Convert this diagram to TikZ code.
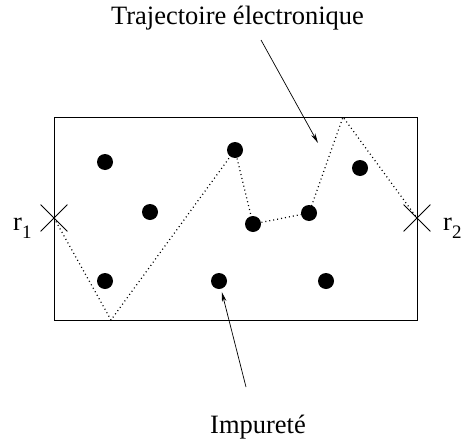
\documentclass[tikz,border=0pt]{standalone}
\usepackage{fontspec}
\setmainfont{Liberation Serif}
\usetikzlibrary{arrows.meta,shapes.misc}

\newcommand{\labsub}[2]{#1\raisebox{-8pt}{\fontsize{19}{20}\selectfont #2}}

\begin{document}
\begin{tikzpicture}[x=1pt, y=-1pt,
    label text/.style={font=\fontsize{26.5}{30}\selectfont, inner sep=0pt},
    impurity/.style={circle, fill=black, minimum size=16pt, inner sep=0pt},
    endpoint/.style={draw, cross out, minimum size=26pt, inner sep=0pt, line width=0.8pt},
    path line/.style={line width=1.2pt, dash pattern=on 1pt off 3pt},
    pointer/.style={-{Stealth[length=10pt, width=4.5pt]}, line width=0.7pt}]
    \useasboundingbox (0,0) rectangle (465,444);

    % Sample
    \draw[line width=0.8pt] (54,117) rectangle (417,320);

    % Ends of the path
    \node[endpoint] (r1) at (54,218) {};
    \node[endpoint] (r2) at (417,218) {};
    \node[label text, anchor=base west] (r1lab) at (13,230) {\labsub{r}{1}};
    \node[label text, anchor=base west] (r2lab) at (443,230) {\labsub{r}{2}};

    % Trajectory
    \coordinate (b1) at (111,320);
    \coordinate (b2) at (343,117);
    \draw[path line] (r1.center) -- (b1) -- (235,150) -- (253,224) -- (309,213) -- (b2) -- (r2.center);

    % Impurities
    \node[impurity] (i1) at (105,162) {};
    \node[impurity] (i2) at (150,212) {};
    \node[impurity] (i3) at (105,281) {};
    \node[impurity] (i4) at (219,281) {};
    \node[impurity] (i5) at (235,150) {};
    \node[impurity] (i6) at (253,224) {};
    \node[impurity] (i7) at (309,213) {};
    \node[impurity] (i8) at (360,168) {};
    \node[impurity] (i9) at (326,281) {};

    % Labels
    \node[label text, anchor=base] (traj) at (237.5,25) {Trajectoire électronique};
    \node[label text, anchor=base] (imp) at (258,433) {Impureté};
    \coordinate (t1) at (261,40);
    \coordinate (t2) at (318,143);
    \coordinate (p1) at (246,387);
    \draw[pointer] (t1) -- (t2);
    \draw[pointer, shorten >=3pt] (p1) -- (i4);
\end{tikzpicture}
\end{document}
